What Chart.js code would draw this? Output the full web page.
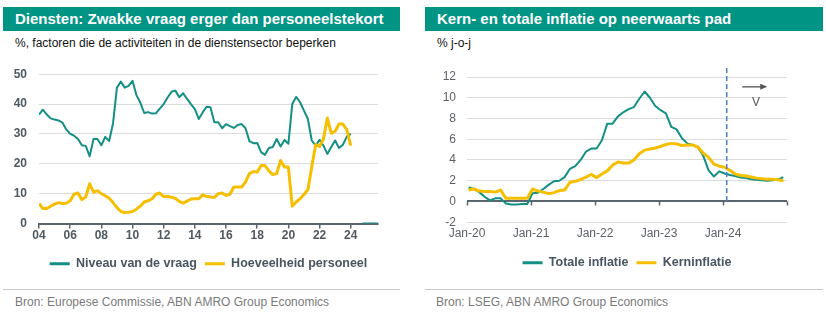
<!DOCTYPE html>
<html>
<head>
<meta charset="utf-8">
<script src="https://cdn.jsdelivr.net/npm/chart.js@4.4.1/dist/chart.umd.min.js"></script>
<style>
body{margin:0;background:#fff;width:826px;height:322px;overflow:hidden;position:relative;font-family:"Liberation Sans",Arial,sans-serif;}
.banner{position:absolute;top:7px;height:24px;line-height:24px;background:#009485;color:#fff;font-weight:bold;font-size:15px;padding-left:12px;box-sizing:border-box;white-space:nowrap;}
.sub{position:absolute;top:36px;font-size:12px;color:#111;white-space:nowrap;}
.rule{position:absolute;top:289px;height:1px;background:#c6c6c6;}
.src{position:absolute;top:295px;font-size:12px;color:#7a7a7a;white-space:nowrap;}
canvas{position:absolute;top:55px;}
</style>
</head>
<body>
<div class="banner" style="left:3px;width:397px">Diensten: Zwakke vraag erger dan personeelstekort</div>
<div class="sub" style="left:15px">%, factoren die de activiteiten in de dienstensector beperken</div>
<canvas id="diensten" width="400" height="225" style="left:0"></canvas>
<div class="rule" style="left:3px;width:397px"></div>
<div class="src" style="left:15px">Bron: Europese Commissie, ABN AMRO Group Economics</div>

<div class="banner" style="left:425px;width:398px">Kern- en totale inflatie op neerwaarts pad</div>
<div class="sub" style="left:437px">% j-o-j</div>
<canvas id="inflatie" width="413" height="225" style="left:413px"></canvas>
<div class="rule" style="left:425px;width:398px"></div>
<div class="src" style="left:436px">Bron: LSEG, ABN AMRO Group Economics</div>

<script>
const teal = '#138f84';
const geel = '#f5bf00';
const asKleur = '#5b656d';
const fontFam = '"Liberation Sans", Arial, sans-serif';

// ---- links: kwartaaldata vanaf 2004K1
const startJaar = 2004;
const niveauVraag = [36.5, 38.1, 36.5, 35.2, 34.8, 34.5, 33.8, 31.5, 30, 29.4, 28.3, 26.2, 26, 22.5, 28.3, 28.3,
  26.2, 29, 27.6, 33.5, 45.5, 47.5, 45.5, 46.1, 47.8, 43, 40.5, 37, 37.3, 36.8, 36.9, 38.5,
  40, 42.2, 44.1, 44.5, 42.3, 43.6, 41.7, 40, 38.3, 35, 37.2, 39.1, 38.9, 33.9, 33.9, 31.9,
  33.3, 32.6, 32, 33, 33.3, 31.9, 27.6, 26.9, 27, 23.9, 23, 25.3, 25.6, 28.3, 25.8, 28,
  26.7, 40, 42.4, 40.6, 37.8, 35, 27.8, 26.1, 28, 26.1, 23.3, 25.6, 27.8, 25.3, 26.4, 29.1,
  30, null, null, 0, 0, 0, 0, 0];
const hoeveelheidPersoneel = [6.7, 5, 5, 5.8, 6.5, 7, 6.7, 6.8, 7.6, 9.8, 10.2, 8, 8.9, 13.3, 10.5, 11,
  10, 9.3, 8.5, 7, 5.3, 4, 3.7, 3.8, 4, 4.8, 5.8, 7.2, 7.6, 8.3, 9.8, 10.2,
  9, 9.1, 8.8, 8.4, 7.4, 6.8, 7.5, 8.2, 8.3, 8.3, 9.6, 9.1, 8.9, 8.7, 10, 10.2,
  9.4, 9.8, 12.2, 12.2, 12.2, 13.9, 16.7, 17.4, 17.2, 19.4, 19.4, 17.6, 16.4, 16.7, 21.1, 18.9,
  18.9, 5.8, 7.2, 8.3, 9.7, 11.3, 18.9, 26.4, 25.8, 28.3, 35.3, 30.2, 30.9, 33.3, 33.3, 31.4,
  26.1];
const jaarTicks = [2004, 2006, 2008, 2010, 2012, 2014, 2016, 2018, 2020, 2022, 2024];
const jaarLabels = ['04', '06', '08', '10', '12', '14', '16', '18', '20', '22', '24'];

// ---- rechts: maanddata vanaf jan-20
const totaleInflatie = [1.35, 1.2, 0.9, 0.45, 0.1, 0.3, 0.3, -0.2, -0.3, -0.3, -0.25, -0.25,
  0.8, 0.85, 1.2, 1.6, 1.95, 2.0, 2.35, 3.15, 3.4, 4.0, 4.8, 5.1,
  5.1, 5.9, 7.5, 7.5, 8.2, 8.6, 8.9, 9.1, 9.9, 10.6, 10.0, 9.2,
  8.8, 8.5, 7.2, 6.95, 6.1, 5.6, 5.45, 5.2, 4.4, 3.0, 2.4, 2.9,
  2.7, 2.55, 2.45, 2.3, 2.25, 2.15, 2.1, 2.05, 2.0, 2.05, 2.1, 2.35];
const kernInflatie = [1.1, 1.2, 1.0, 0.95, 0.95, 0.9, 1.1, 0.3, 0.3, 0.3, 0.3, 0.3,
  1.2, 1.0, 0.9, 0.75, 0.85, 1.05, 1.1, 1.85, 1.95, 2.1, 2.35, 2.6,
  2.3, 2.65, 2.95, 3.5, 3.8, 3.7, 3.7, 4.0, 4.6, 4.95, 5.05, 5.15,
  5.3, 5.5, 5.6, 5.55, 5.4, 5.45, 5.45, 5.25, 4.65, 4.25, 3.6, 3.4,
  3.3, 3.0, 2.65, 2.5, 2.45, 2.35, 2.25, 2.2, 2.15, 2.15, 2.1, 2.0];
const maandTicks = [0, 12, 24, 36, 48];
const maandLabels = ['Jan-20', 'Jan-21', 'Jan-22', 'Jan-23', 'Jan-24'];
const voorspelStart = 48.7;   // begin verwachting (stippellijn)

function legendItems(chart){
    const items = Chart.defaults.plugins.legend.labels.generateLabels(chart);
    items.forEach(function(it){ it.fillStyle = it.strokeStyle; it.lineWidth = 0; });
    return items;
}

const legendOpts = {
    position: 'bottom',
    fullSize: false,
    labels: {
        boxWidth: 20, boxHeight: 3, padding: 8,
        color: '#4a5560',
        font: {family: fontFam, size: 12.5, weight: 'bold'},
        generateLabels: legendItems,
        sort: function(a, b){ return a.datasetIndex - b.datasetIndex; }
    }
};

// diensten
new Chart(document.getElementById('diensten').getContext('2d'), {
    type: 'line',
    data: {
        datasets: [{
            label: 'Niveau van de vraag',
            data: niveauVraag.map(function(v, i){ return {x: startJaar + i / 4, y: v}; }),
            borderColor: teal, backgroundColor: teal, borderWidth: 2, order: 1
        }, {
            label: 'Hoeveelheid personeel',
            data: hoeveelheidPersoneel.map(function(v, i){ return {x: startJaar + i / 4, y: v}; }),
            borderColor: geel, backgroundColor: geel, borderWidth: 3, order: 0
        }]
    },
    options: {
        responsive: false, animation: false,
        layout: {padding: {top: 16.7, right: 22, left: 0, bottom: 0}},
        elements: {point: {radius: 0}, line: {tension: 0, borderJoinStyle: 'round'}},
        plugins: {legend: legendOpts, tooltip: {enabled: false}},
        scales: {
            x: {
                type: 'linear', min: 2004, max: 2025.75,
                afterBuildTicks: function(s){ s.ticks = jaarTicks.map(function(v){ return {value: v}; }); },
                afterFit: function(s){ s.height = 26; },
                grid: {drawOnChartArea: false, drawTicks: true, tickLength: 5, color: asKleur, lineWidth: 1.5},
                border: {color: asKleur, width: 2},
                ticks: {
                    padding: 0, color: '#4f5961', maxRotation: 0, autoSkip: false,
                    font: {family: fontFam, size: 12, weight: 'bold'},
                    callback: function(v){ return jaarLabels[jaarTicks.indexOf(v)]; }
                }
            },
            y: {
                min: 0, max: 50,
                afterFit: function(s){ s.width = 39; },
                grid: {color: '#dcdcdc', drawTicks: false},
                border: {display: false},
                ticks: {stepSize: 10, padding: 12, color: '#4f5961', font: {family: fontFam, size: 12, weight: 'bold'}}
            }
        }
    }
});

// extra tekenwerk inflatiegrafiek: nulas-streepjes, verwachtingslijn, pijl
const inflatieExtra = {
    id: 'inflatieExtra',
    beforeDatasetsDraw: function(chart){
        const ctx = chart.ctx, x = chart.scales.x, y = chart.scales.y;
        const y0 = y.getPixelForValue(0);
        ctx.save();
        ctx.strokeStyle = asKleur; ctx.lineWidth = 1.5;
        maandTicks.concat([60]).forEach(function(v){
            const px = Math.round(x.getPixelForValue(v)) + 0.5;
            ctx.beginPath(); ctx.moveTo(px, y0); ctx.lineTo(px, y0 + 4); ctx.stroke();
        });
        ctx.restore();
    },
    afterDatasetsDraw: function(chart){
        const ctx = chart.ctx, x = chart.scales.x, y = chart.scales.y;
        const y0 = y.getPixelForValue(0);
        const px = x.getPixelForValue(voorspelStart);
        ctx.save();
        ctx.strokeStyle = '#4f7fc4'; ctx.lineWidth = 1.5; ctx.setLineDash([5, 3]);
        ctx.beginPath(); ctx.moveTo(px, chart.chartArea.top - 9); ctx.lineTo(px, y0); ctx.stroke();
        ctx.setLineDash([]);
        // pijl
        const ax1 = x.getPixelForValue(51.6), ax2 = x.getPixelForValue(56.3), ay = y.getPixelForValue(11.05);
        ctx.strokeStyle = '#555'; ctx.fillStyle = '#555'; ctx.lineWidth = 1.3;
        ctx.beginPath(); ctx.moveTo(ax1, ay); ctx.lineTo(ax2 - 5, ay); ctx.stroke();
        ctx.beginPath(); ctx.moveTo(ax2, ay); ctx.lineTo(ax2 - 7, ay - 3); ctx.lineTo(ax2 - 7, ay + 3); ctx.closePath(); ctx.fill();
        ctx.font = '12px ' + fontFam; ctx.textAlign = 'center'; ctx.textBaseline = 'middle';
        ctx.fillText('V', x.getPixelForValue(54.2), y.getPixelForValue(9.5));
        ctx.restore();
    }
};

new Chart(document.getElementById('inflatie').getContext('2d'), {
    type: 'line',
    data: {
        datasets: [{
            label: 'Totale inflatie',
            data: totaleInflatie.map(function(v, i){ return {x: i + 0.3, y: v}; }),
            borderColor: teal, backgroundColor: teal, borderWidth: 2, order: 1
        }, {
            label: 'Kerninflatie',
            data: kernInflatie.map(function(v, i){ return {x: i + 0.3, y: v}; }),
            borderColor: geel, backgroundColor: geel, borderWidth: 3, order: 0
        }]
    },
    options: {
        responsive: false, animation: false,
        layout: {padding: {top: 22, right: 39, left: 0, bottom: 1}},
        elements: {point: {radius: 0}, line: {tension: 0, borderJoinStyle: 'round'}},
        plugins: {legend: legendOpts, tooltip: {enabled: false}},
        scales: {
            x: {
                type: 'linear', min: 0, max: 60,
                afterBuildTicks: function(s){ s.ticks = maandTicks.map(function(v){ return {value: v}; }); },
                afterFit: function(s){ s.height = 26.3; },
                grid: {display: false, drawTicks: false},
                border: {display: false},
                ticks: {
                    padding: 4, color: '#5b6168', maxRotation: 0, autoSkip: false,
                    font: {family: fontFam, size: 12},
                    callback: function(v){ return maandLabels[maandTicks.indexOf(v)]; }
                }
            },
            y: {
                min: -2, max: 12,
                afterFit: function(s){ s.width = 54; },
                grid: {
                    drawTicks: false,
                    color: function(c){ return c.tick.value === 0 ? asKleur : '#dcdcdc'; },
                    lineWidth: function(c){ return c.tick.value === 0 ? 2 : 1; }
                },
                border: {display: false},
                ticks: {stepSize: 2, padding: 11, color: '#5b6168', font: {family: fontFam, size: 12}}
            }
        }
    },
    plugins: [inflatieExtra]
});
</script>
</body>
</html>
